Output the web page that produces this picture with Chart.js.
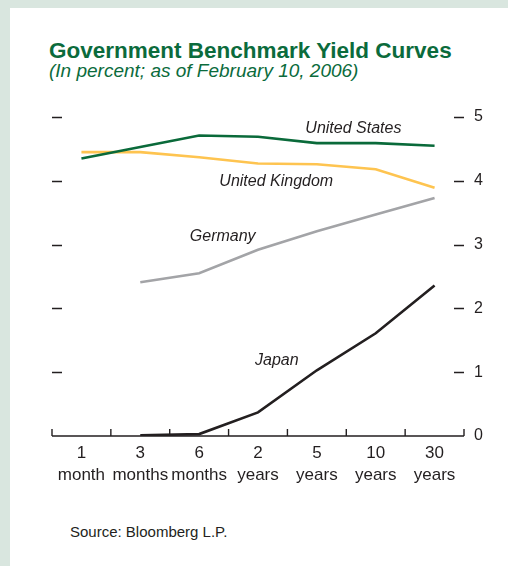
<!DOCTYPE html>
<html>
<head>
<meta charset="utf-8">
<script src="https://cdn.jsdelivr.net/npm/chart.js@4.4.1/dist/chart.umd.min.js"></script>
<style>
  body { margin: 0; width: 508px; height: 566px; background: #d9e6df; position: relative; overflow: hidden; font-family: "Liberation Sans", Arial, sans-serif; }
  #panel { position: absolute; left: 10px; top: 8px; right: 0; bottom: 0; background: #fff; }
  #title { position: absolute; left: 49px; top: 40px; font-size: 22.5px; line-height: 22px; font-weight: bold; color: #0b6b3c; white-space: nowrap; }
  #subtitle { position: absolute; left: 49px; top: 61px; font-size: 19px; line-height: 19px; font-style: italic; color: #0b6b3c; white-space: nowrap; }
  #source { position: absolute; left: 70px; top: 524px; font-size: 15px; line-height: 15px; color: #231f20; white-space: nowrap; }
  #myChart { position: absolute; left: 0; top: 0; }
</style>
</head>
<body>
<div id="panel"></div>
<div id="title">Government Benchmark Yield Curves</div>
<div id="subtitle">(In percent; as of February 10, 2006)</div>
<div id="source">Source: Bloomberg L.P.</div>
<canvas id="myChart" width="508" height="566"></canvas>
<script>
// Variables
const INK = '#231f20';
const maturities = [['1', 'month'], ['3', 'months'], ['6', 'months'], ['2', 'years'], ['5', 'years'], ['10', 'years'], ['30', 'years']];
const seriesNames = ['United States', 'United Kingdom', 'Germany', 'Japan'];
const usYields = [4.35, 4.53, 4.71, 4.69, 4.59, 4.59, 4.55];
const ukYields = [4.45, 4.45, 4.37, 4.27, 4.26, 4.18, 3.89];
const germanyYields = [null, 2.41, 2.55, 2.92, 3.21, 3.47, 3.73];
const japanYields = [null, 0.01, 0.03, 0.37, 1.03, 1.61, 2.36];
const yTicks = [0, 1, 2, 3, 4, 5];

const lineColors = ['#0a6a3a', '#fec450', '#a3a4a7', INK];
// where each series name sits, in category index / percent
const namePlaces = [[4.62, 4.75], [3.31, 3.92], [2.40, 3.06], [3.32, 1.12]];

// Axis line, upward tick marks and the short dashes on both sides
const axisMarks = {
  id: 'axisMarks',
  beforeDatasetsDraw(chart) {
    const { ctx, chartArea: a, scales: { x, y } } = chart;
    const half = (x.getPixelForValue(1) - x.getPixelForValue(0)) / 2;
    ctx.save();
    ctx.strokeStyle = INK;
    ctx.lineWidth = 1.4;
    ctx.beginPath();
    ctx.moveTo(a.left, a.bottom);
    ctx.lineTo(a.right, a.bottom);
    for (let i = 0; i <= maturities.length; i++) {
      const px = i < maturities.length ? x.getPixelForValue(i) - half : x.getPixelForValue(i - 1) + half;
      ctx.moveTo(px, a.bottom);
      ctx.lineTo(px, a.bottom - 7);
    }
    yTicks.forEach(v => {
      if (v === 0) return;
      const py = Math.round(y.getPixelForValue(v)) + 0.5;
      ctx.moveTo(a.left, py);
      ctx.lineTo(a.left + 10, py);
      ctx.moveTo(a.right - 10, py);
      ctx.lineTo(a.right, py);
    });
    ctx.stroke();
    ctx.restore();
  }
};

// Series names written next to the lines
const seriesLabels = {
  id: 'seriesLabels',
  afterDatasetsDraw(chart) {
    const { ctx, scales: { x, y } } = chart;
    ctx.save();
    ctx.fillStyle = INK;
    ctx.font = 'italic 16px "Liberation Sans", Arial, sans-serif';
    ctx.textAlign = 'center';
    ctx.textBaseline = 'alphabetic';
    seriesNames.forEach((name, i) => {
      const [ix, v] = namePlaces[i];
      ctx.fillText(name, x.getPixelForValue(ix), y.getPixelForValue(v));
    });
    ctx.restore();
  }
};

// Chart Creation
const ctx = document.getElementById('myChart');
const allSeries = [usYields, ukYields, germanyYields, japanYields];
const chart = new Chart(ctx, {
  type: 'line',
  data: {
    labels: maturities,
    datasets: allSeries.map((values, i) => ({
      label: seriesNames[i],
      data: values,
      borderColor: lineColors[i],
      borderWidth: 2.6,
      pointRadius: 0,
      tension: 0,
      fill: false
    }))
  },
  options: {
    responsive: false,
    animation: false,
    layout: { padding: { left: 52, top: 117, right: 0, bottom: 0 } },
    plugins: {
      legend: { display: false },
      tooltip: { enabled: false }
    },
    scales: {
      x: {
        offset: true,
        grid: { display: false },
        border: { display: false },
        ticks: {
          autoSkip: false,
          maxRotation: 0,
          color: INK,
          padding: -1,
          font: { family: '"Liberation Sans", Arial, sans-serif', size: 17, lineHeight: 1.25 }
        },
        afterFit: (scale) => { scale.height = 130; }
      },
      y: {
        position: 'right',
        min: 0,
        max: 5,
        grid: { display: false },
        border: { display: false },
        afterBuildTicks: (scale) => { scale.ticks = yTicks.map(v => ({ value: v })); },
        ticks: {
          color: INK,
          padding: 2,
          font: { family: '"Liberation Sans", Arial, sans-serif', size: 16 }
        },
        afterFit: (scale) => { scale.width = 44; }
      }
    }
  },
  plugins: [axisMarks, seriesLabels]
});
</script>
</body>
</html>
